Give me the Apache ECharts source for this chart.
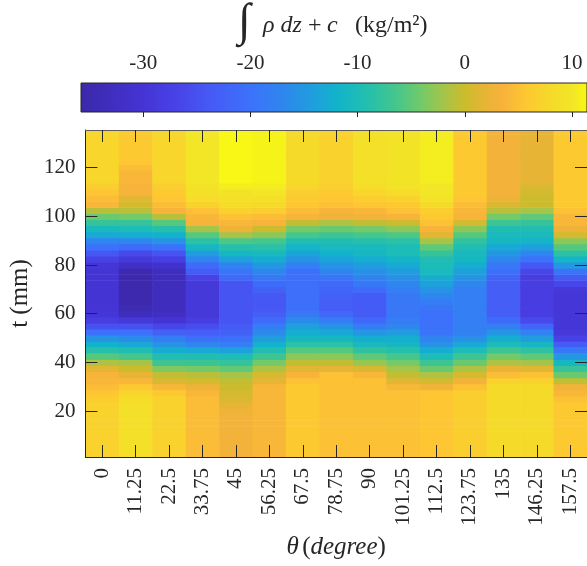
<!DOCTYPE html>
<html>
<head>
<meta charset="utf-8">
<script src="https://cdn.jsdelivr.net/npm/echarts@6/dist/echarts.min.js"></script>
<style>
  html, body { margin: 0; padding: 0; background: #ffffff; }
  #chart { width: 587px; height: 566px; }
</style>
</head>
<body>
<div id="chart"></div>
<script>
// Angle categories (degree) along the horizontal axis
const thetaLabels = ['0', '11.25', '22.5', '33.75', '45', '56.25', '67.5', '78.75',
  '90', '101.25', '112.5', '123.75', '135', '146.25', '157.5'];

// Height samples t (mm), one row every 2.5 mm
const tRows = [0, 2.5, 5, 7.5, 10, 12.5, 15, 17.5, 20, 22.5,
  25, 27.5, 30, 32.5, 35, 37.5, 40, 42.5, 45, 47.5,
  50, 52.5, 55, 57.5, 60, 62.5, 65, 67.5, 70, 72.5,
  75, 77.5, 80, 82.5, 85, 87.5, 90, 92.5, 95, 97.5,
  100, 102.5, 105, 107.5, 110, 112.5, 115, 117.5, 120, 122.5,
  125, 127.5, 130, 132.5, 135];

// Integrated density (kg/m^2) per angle, listed from t = 0 upward
const col0 = [7, 7, 7, 7, 7, 7, 7, 7, 7, 7, 6.5, 5.5, 4.5, 4, 3.5, 1.5, -1.5, -5.5, -9, -12,
  -15.5, -20, -25, -28, -29.5, -30, -30, -30, -30, -30, -30, -30, -29.5, -27, -24, -20, -17, -13, -10.5, -7.5,
  -4.5, -1, 4, 4.5, 5.5, 6.5, 7.5, 7.5, 7.5, 7.5, 7.5, 7.5, 7.5, 7.5, 7.5];
const col1 = [9, 9, 9, 9, 9, 9, 9, 9, 9, 9, 8.5, 7.5, 6, 4, 2, 0, -2, -6.5, -9.5, -13,
  -16.5, -20, -25, -29, -33, -34.5, -35, -35, -35, -35, -35, -35, -32, -29, -26, -21, -17, -12.5, -10, -7.5,
  -4, -1, 0.5, 1.5, 3.5, 3.5, 4, 4, 4.5, 5.5, 6, 6, 6, 6, 6];
const col2 = [7, 7, 7, 7, 7, 7, 7, 7, 7, 7, 7, 6, 4, 1, -0.5, -3.5, -7, -9.5, -12.5, -15.5,
  -18.5, -22.5, -26.5, -30, -32.5, -33, -33, -33, -33, -33, -33, -33, -31, -27.5, -24.5, -20, -15.5, -12, -9, -5.5,
  -1, 3.5, 4.5, 5.5, 6, 6.5, 7.5, 7.5, 7.5, 7.5, 7.5, 7.5, 7.5, 7.5, 7.5];
const col3 = [4.5, 4.5, 4.5, 4.5, 4.5, 4.5, 4.5, 4.5, 4.5, 4.5, 4.5, 4, 2.5, 0.5, -1, -4, -7, -9.5, -13, -17,
  -20.5, -23, -25.5, -28, -29, -29, -29, -29, -29, -29, -27, -23.5, -21, -17.5, -14.5, -11, -8.5, -5.5, -2, 3.5,
  4, 5, 7, 8.5, 9, 9.5, 10, 10, 10, 10, 10, 10, 10, 10, 10];
const col4 = [3, 3, 3, 3, 3, 3, 3, 3, 2.5, 2, 1, 0.5, 0, -0.5, -2, -5, -7.5, -10, -14, -18,
  -20.5, -22.5, -23.5, -24.5, -24.5, -24.5, -24.5, -24.5, -24.5, -24.5, -21.5, -19.5, -17.5, -14, -11, -9, -6, -2, 2.5, 4,
  5, 7, 8.5, 9, 9.5, 10.5, 11.3, 11.3, 11.3, 11.3, 11.3, 11.3, 11.3, 11.3, 11.3];
const col5 = [4, 4, 4, 4, 4, 4, 4, 4, 4, 4, 4, 4, 4, 2, 0.5, -1.5, -4, -7, -9.5, -12,
  -14.5, -16.5, -18.5, -21, -23, -24, -24, -24, -22.5, -21, -19, -17, -15, -12.5, -10.5, -8.5, -6.5, -3, 0, 3.5,
  4.5, 6.5, 8, 9, 10, 10.5, 11, 11, 11, 11, 11, 11, 11, 11, 11];
const col6 = [6, 6, 6, 6, 6, 6, 6, 6, 6, 6, 6, 6, 6, 5, 3.5, 1.5, -0.5, -3, -5.5, -8.5,
  -11, -12.5, -14, -16.5, -19, -20.5, -20.5, -20.5, -20.5, -20.5, -20.5, -20.5, -18, -15.5, -13.5, -11.5, -9.5, -6.5, -4, -0.5,
  3.5, 4.5, 5.5, 6, 6.5, 7.5, 8, 8, 8, 8, 8, 8, 8, 8, 8];
const col7 = [5, 5, 5, 5, 5, 5, 5, 5, 5, 5, 5, 5, 5, 5, 5, 2, -0.5, -3, -5.5, -8.5,
  -11, -13, -15.5, -18.5, -21.5, -23, -23, -22.5, -22, -21.5, -19.5, -17.5, -15.5, -13.5, -12, -10.5, -9.5, -7, -4.5, -1.5,
  2.5, 3.5, 5, 5.5, 6, 6.5, 7, 7, 7, 7, 7, 7, 7, 7, 7];
const col8 = [5, 5, 5, 5, 5, 5, 5, 5, 5, 5, 5, 5, 5, 5, 4, 1, -2.5, -5, -8, -10.5,
  -12.5, -15, -18.5, -21.5, -23.5, -23.5, -23.5, -23.5, -21, -19, -17.5, -16, -14.5, -12.5, -11, -10.5, -9, -6.5, -4, -0.5,
  3, 4, 5.5, 6.5, 7.5, 8.5, 9, 9, 9, 9, 9, 9, 9, 9, 9];
const col9 = [5, 5, 5, 5, 5, 5, 5, 5, 5, 5, 5, 5, 4, 1.5, -0.5, -2, -4, -6.5, -9, -11,
  -12.5, -14.5, -17, -18.5, -19, -19, -19, -19, -18, -17, -16, -14.5, -13, -11.5, -10, -10, -8.5, -6, -3, 0,
  3.5, 5, 6, 7, 8.5, 9.5, 9.5, 9.5, 9.5, 9.5, 9.5, 9.5, 9.5, 9.5, 9.5];
const col10 = [5.5, 5.5, 5.5, 5.5, 5.5, 5.5, 5.5, 5.5, 5.5, 5.5, 5.5, 5.5, 3, 0.5, -1.5, -4.5, -7, -10, -12.5, -15.5,
  -17.5, -19.5, -20, -20, -20, -19.5, -18.5, -17, -15.5, -14, -12.5, -10.5, -10, -9.5, -7.5, -5, -2, 1.5, 3.5, 5,
  6, 6.5, 8, 9.5, 10, 10, 10.5, 10.5, 10.5, 10.5, 10.5, 10.5, 10.5, 10.5, 10.5];
const col11 = [6.5, 6.5, 6.5, 6.5, 6.5, 6.5, 6.5, 6.5, 6.5, 6.5, 6.5, 6.5, 5, 3, 0.5, -1.5, -4.5, -7, -10, -13,
  -16, -17.5, -18, -18, -18, -18, -18, -18, -18, -17, -15.5, -14, -12.5, -11, -10.5, -9.5, -8, -5.5, -3, 0.5,
  3.5, 4, 4.5, 5.5, 6, 6, 6, 6, 6, 6, 6, 6, 6, 6, 6];
const col12 = [8, 8, 8, 8, 8, 8, 8, 8, 8, 8, 8, 8, 8, 7, 4.5, 2, -1.5, -4, -7, -10,
  -12.5, -15, -18, -21, -23, -23, -23, -23, -23, -23, -22, -20.5, -19, -17, -15, -13, -11, -10.5, -9.5, -7,
  -4, -1, 1, 2.5, 3, 3, 3, 3, 3, 3, 3, 3, 3, 3, 3];
const col13 = [8, 8, 8, 8, 8, 8, 8, 8, 8, 8, 8, 8, 8, 7, 5, 1.5, -2, -5, -8, -11,
  -14.5, -17.5, -22, -26, -28, -28, -28, -28, -28, -28, -28, -26.5, -24, -20, -17, -14, -11.5, -10.5, -9.5, -7.5,
  -5, -2, 0, 0, 0.5, 1, 2, 2, 2, 2, 2, 2, 2, 2, 2];
const col14 = [6, 6, 6, 6, 6, 6, 6, 6, 6, 6, 5, 4, 3, -0.5, -4.5, -7.5, -11, -15, -19, -23.5,
  -27, -29, -29.5, -29.5, -29.5, -29.5, -29.5, -29.5, -29, -26.5, -23.5, -19.5, -15, -11.5, -8.5, -5.5, -3, 0.5, 2.5, 4,
  4, 5, 6, 6, 6, 6, 6, 6, 6, 6, 6, 6, 6, 6, 6];

const columns = [col0, col1, col2, col3, col4, col5, col6, col7, col8, col9, col10, col11, col12, col13, col14];

// Colour bar range and its tick labels
const cbMin = -35.8;
const cbMax = 11.4;
const cbTicks = [-30, -20, -10, 0, 10];
const tTicks = [20, 40, 60, 80, 100, 120];

// Colour map stops (value -> colour)
const cmapValues = [-35.8, -32, -30, -27, -24, -20, -17, -14, -12, -10, -8, -6, -4, -2, 0, 2, 3.5, 5.5, 8, 10, 11.4];
const cmapColors = ['#3b28a8', '#4130c6', '#4434d4', '#4842e6', '#4658f4', '#3c72fb', '#2e86ee', '#1ea0dc',
  '#12b2cc', '#1cbcb8', '#30c2a0', '#4cc786', '#74ca68', '#a4c44a', '#ccbc2c', '#e8b436', '#f8b23c',
  '#fdc632', '#f6da2a', '#f2e626', '#f8f814'];

const rowHalf = 1.25;
const serif = '"Liberation Serif", "DejaVu Serif", serif';
const ink = '#262626';

function hexToRgb(h) {
  return [parseInt(h.slice(1, 3), 16), parseInt(h.slice(3, 5), 16), parseInt(h.slice(5, 7), 16)];
}
function colourAt(v) {
  if (v <= cmapValues[0]) return cmapColors[0];
  for (let i = 1; i < cmapValues.length; i++) {
    if (v <= cmapValues[i]) {
      const f = (v - cmapValues[i - 1]) / (cmapValues[i] - cmapValues[i - 1]);
      const a = hexToRgb(cmapColors[i - 1]), b = hexToRgb(cmapColors[i]);
      const c = a.map((x, k) => Math.round(x + (b[k] - x) * f));
      return 'rgb(' + c.join(',') + ')';
    }
  }
  return cmapColors[cmapColors.length - 1];
}
// evenly spaced colour list for the visual map
const vmColors = [];
for (let i = 0; i <= 200; i++) vmColors.push(colourAt(cbMin + (cbMax - cbMin) * i / 200));

// cells: [column index, t centre, value]
const cells = [];
columns.forEach((col, ci) => {
  col.forEach((v, ri) => cells.push([ci, tRows[ri], v]));
});

function renderCell(params, api) {
  const ci = api.value(0);
  const t = api.value(1);
  const lo = api.coord([ci, t - rowHalf]);
  const hi = api.coord([ci, t + rowHalf]);
  const w = api.size([1, 0])[0];
  return {
    type: 'rect',
    shape: { x: lo[0] - w / 2, y: hi[1], width: w + 0.6, height: lo[1] - hi[1] + 0.6 },
    style: { fill: api.visual('color') }
  };
}

function renderBar(params, api) {
  const p0 = api.coord([cbMin, 0]);
  const p1 = api.coord([cbMax, 1]);
  const stops = cmapValues.map((v, i) => ({ offset: (v - cbMin) / (cbMax - cbMin), color: cmapColors[i] }));
  return {
    type: 'rect',
    shape: { x: p0[0], y: p1[1], width: p1[0] - p0[0], height: p0[1] - p1[1] },
    style: {
      fill: new echarts.graphic.LinearGradient(0, 0, 1, 0, stops),
      stroke: ink, lineWidth: 1
    }
  };
}

const chart = echarts.init(document.getElementById('chart'), null, { renderer: 'canvas' });

const tickStyle = { color: ink, width: 1 };
const labelStyle = { color: ink, fontFamily: serif, fontSize: 21 };

chart.setOption({
  animation: false,
  backgroundColor: '#ffffff',
  grid: [
    { left: 82, top: 130, width: 506, height: 327, containLabel: false },
    { left: 81, top: 83, width: 507, height: 29, containLabel: false }
  ],
  xAxis: [
    {
      type: 'category', gridIndex: 0, data: thetaLabels, position: 'bottom', z: 10,
      boundaryGap: true,
      axisLine: { show: true, lineStyle: { color: ink, width: 1 } },
      axisTick: { show: true, inside: true, alignWithLabel: true, interval: 0, length: 12, lineStyle: tickStyle },
      axisLabel: Object.assign({ rotate: 90, interval: 0, margin: 11 }, labelStyle),
      name: '{i|θ} {r|(}{i|degree}{r|)}',
      nameLocation: 'middle', nameGap: 78,
      nameTextStyle: {
        rich: {
          i: { fontFamily: serif, fontSize: 25, fontStyle: 'italic', color: ink },
          r: { fontFamily: serif, fontSize: 25, color: ink }
        }
      }
    },
    {
      type: 'category', gridIndex: 0, data: thetaLabels, position: 'top', z: 10,
      boundaryGap: true,
      axisLine: { show: true, lineStyle: { color: '#5a5a5a', width: 1 } },
      axisTick: { show: true, inside: true, alignWithLabel: true, interval: 0, length: 12, lineStyle: tickStyle },
      axisLabel: { show: false }
    },
    {
      type: 'value', gridIndex: 1, min: cbMin, max: cbMax, position: 'top', z: 10,
      axisLine: { show: false },
      splitLine: { show: false },
      axisTick: { show: true, inside: true, length: 5, lineStyle: tickStyle, customValues: cbTicks },
      axisLabel: Object.assign({ margin: 9, customValues: cbTicks }, labelStyle)
    }
  ],
  yAxis: [
    {
      type: 'value', gridIndex: 0, min: 1.1, max: 135.5, position: 'left', z: 10,
      axisLine: { show: true, lineStyle: { color: ink, width: 1 } },
      splitLine: { show: false },
      axisTick: { show: true, inside: true, length: 12, lineStyle: tickStyle, customValues: tTicks },
      axisLabel: Object.assign({ margin: 10, customValues: tTicks }, labelStyle),
      name: 't (mm)', nameLocation: 'middle', nameRotate: 90, nameGap: 50,
      nameTextStyle: { fontFamily: serif, fontSize: 25, color: ink }
    },
    {
      type: 'value', gridIndex: 0, min: 1.1, max: 135.5, position: 'right', z: 10,
      axisLine: { show: true, lineStyle: { color: ink, width: 1 } },
      splitLine: { show: false },
      axisTick: { show: true, inside: true, length: 12, lineStyle: tickStyle, customValues: tTicks },
      axisLabel: { show: false }
    },
    { type: 'value', gridIndex: 1, min: 0, max: 1, show: false }
  ],
  visualMap: {
    type: 'continuous', show: false, seriesIndex: 0, dimension: 2,
    min: cbMin, max: cbMax, inRange: { color: vmColors }
  },
  series: [
    {
      type: 'custom', xAxisIndex: 0, yAxisIndex: 0, clip: true,
      renderItem: renderCell, data: cells, z: 2
    },
    {
      type: 'custom', xAxisIndex: 2, yAxisIndex: 2,
      renderItem: renderBar, data: [[cbMin, 0]], z: 2
    }
  ],
  graphic: [
    {
      type: 'text', left: 238, top: 0, z: 20,
      style: { text: '∫', font: '46px ' + serif, fill: ink }
    },
    {
      type: 'text', left: 263, top: 14, z: 20,
      style: { text: 'ρ dz', font: 'italic 24px ' + serif, fill: ink }
    },
    {
      type: 'text', left: 308, top: 14, z: 20,
      style: { text: '+', font: '24px ' + serif, fill: ink }
    },
    {
      type: 'text', left: 327, top: 14, z: 20,
      style: { text: 'c', font: 'italic 24px ' + serif, fill: ink }
    },
    {
      type: 'text', left: 355, top: 14, z: 20,
      style: { text: '(kg/m²)', font: '24px ' + serif, fill: ink }
    }
  ]
});
</script>
</body>
</html>
